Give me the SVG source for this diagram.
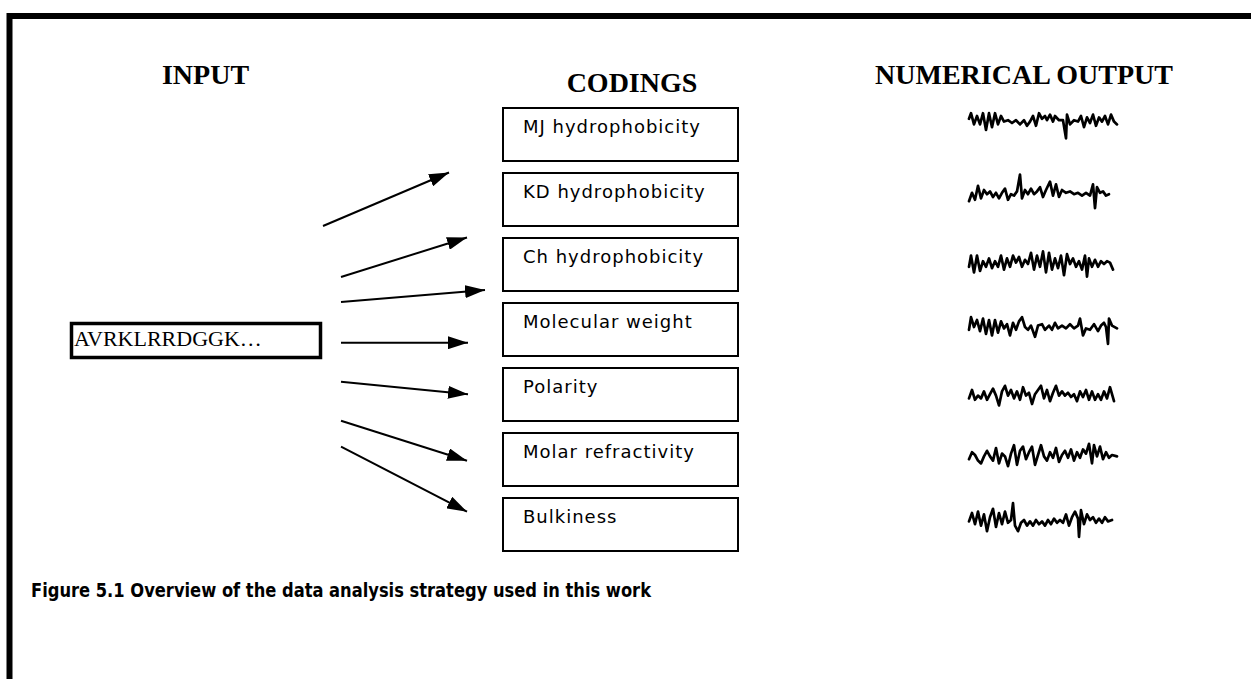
<svg xmlns="http://www.w3.org/2000/svg" width="1251" height="679" viewBox="0 0 1251 679">
  <style>
    .frame { fill: none; stroke: #000; stroke-width: 6; }
    .heading { font-family: "Liberation Serif", "Times New Roman", serif; font-weight: bold; font-size: 28px; fill: #000; }
    .box { fill: #fff; stroke: #000; stroke-width: 2; }
    .label { font-family: "DejaVu Sans", "Liberation Sans", sans-serif; font-size: 18px; letter-spacing: 1px; fill: #000; }
    .seq-box { fill: #fff; stroke: #000; stroke-width: 3.5; }
    .seq { font-family: "Liberation Serif", "Times New Roman", serif; font-size: 22px; fill: #000; }
    .arrow { fill: none; stroke: #000; stroke-width: 2; marker-end: url(#head); }
    .wave { fill: none; stroke: #000; stroke-width: 2.7; stroke-linejoin: round; stroke-linecap: round; vector-effect: non-scaling-stroke; }
    .caption { font-family: "DejaVu Sans", "Liberation Sans", sans-serif; font-weight: bold; font-size: 20px; fill: #000; }
  </style>
  <defs>
    <marker id="head" markerUnits="userSpaceOnUse" markerWidth="20" markerHeight="13" refX="20" refY="6.5" orient="auto">
      <path d="M0,0 L20,6.5 L0,13 Z" fill="#000"/>
    </marker>
  </defs>

  <rect width="1251" height="679" fill="#fff"/>
  <!-- open page frame: left and top edges only -->
  <path class="frame" d="M9.5,679 V16 H1251"/>

  <!-- column headings -->
  <text class="heading" x="205.5" y="84" text-anchor="middle">INPUT</text>
  <text class="heading" x="632" y="92" text-anchor="middle">CODINGS</text>
  <text class="heading" x="1024" y="84" text-anchor="middle">NUMERICAL OUTPUT</text>

  <!-- input sequence -->
  <g id="input-sequence">
    <rect class="seq-box" x="71.5" y="323.5" width="249" height="34"/>
    <text class="seq" x="74" y="346">AVRKLRRDGGK…</text>
  </g>

  <!-- coding boxes -->
  <g id="coding-mj">
    <rect class="box" x="503" y="108" width="235" height="53"/>
    <text class="label" x="523" y="133">MJ hydrophobicity</text>
  </g>
  <g id="coding-kd">
    <rect class="box" x="503" y="173" width="235" height="53"/>
    <text class="label" x="523" y="198">KD hydrophobicity</text>
  </g>
  <g id="coding-ch">
    <rect class="box" x="503" y="238" width="235" height="53"/>
    <text class="label" x="523" y="263">Ch hydrophobicity</text>
  </g>
  <g id="coding-mw">
    <rect class="box" x="503" y="303" width="235" height="53"/>
    <text class="label" x="523" y="328">Molecular weight</text>
  </g>
  <g id="coding-polarity">
    <rect class="box" x="503" y="368" width="235" height="53"/>
    <text class="label" x="523" y="393">Polarity</text>
  </g>
  <g id="coding-molar">
    <rect class="box" x="503" y="433" width="235" height="53"/>
    <text class="label" x="523" y="458">Molar refractivity</text>
  </g>
  <g id="coding-bulk">
    <rect class="box" x="503" y="498" width="235" height="53"/>
    <text class="label" x="523" y="523">Bulkiness</text>
  </g>

  <!-- numerical output traces (vertically stretched about each trace's centre line) -->
  <g id="output-mj" transform="translate(0,123) scale(1,1.4) translate(0,-123)">
    <polyline class="wave" points="969,120 971,116 974,124 977,118 980,124 983,116 986,128 989,116 992,126 995,116 998,124 1001,118 1004,122 1008,121 1012,123 1016,121 1020,124 1024,121 1027,125 1030,122 1033,118 1036,125 1039,116 1042,120 1045,118 1047,121 1050,117 1053,122 1055,118 1059,121 1063,121 1066,134 1067,117 1070,124 1074,121 1078,122 1081,118 1084,126 1087,119 1090,123 1093,117 1096,125 1099,119 1102,122 1105,118 1108,124 1111,117 1114,122 1117,124"/>
  </g>
  <g id="output-kd" transform="translate(0,197) scale(1,1.4) translate(0,-197)">
    <polyline class="wave" points="969,200 972,194 975,199 978,189 981,198 984,192 987,195 990,193 993,197 996,194 999,198 1002,194 1005,191 1008,199 1011,195 1014,196 1017,193 1020,181 1022,198 1025,192 1028,195 1031,191 1034,195 1037,193 1040,190 1043,197 1046,192 1050,186 1053,196 1056,188 1059,197 1062,192 1066,194 1070,193 1074,195 1078,194 1082,196 1086,194 1090,196 1093,188 1095,205 1097,190 1100,194 1103,193 1106,196 1109,195"/>
  </g>
  <g id="output-ch" transform="translate(0,264) scale(1,1.4) translate(0,-264)">
    <polyline class="wave" points="969,266 971,258 974,270 977,258 980,269 983,262 986,266 989,260 992,267 995,262 998,266 1001,258 1004,268 1007,260 1010,266 1013,258 1016,263 1019,259 1022,266 1025,261 1028,264 1031,256 1034,268 1037,258 1040,266 1043,255 1046,270 1049,256 1052,268 1055,260 1058,267 1061,258 1064,272 1067,257 1070,264 1073,260 1076,266 1079,262 1082,268 1085,258 1087,273 1089,260 1092,266 1095,261 1098,266 1101,262 1104,264 1107,262 1110,263 1113,268"/>
  </g>
  <g id="output-mw" transform="translate(0,327) scale(1,1.4) translate(0,-327)">
    <polyline class="wave" points="969,329 971,320 974,327 977,322 980,330 983,321 986,332 989,322 992,333 995,322 998,331 1001,323 1004,328 1007,325 1010,333 1013,324 1016,329 1019,323 1022,320 1025,327 1028,329 1031,326 1035,334 1038,326 1042,325 1045,329 1049,326 1052,329 1055,324 1058,328 1062,326 1066,328 1070,325 1074,328 1078,326 1080,321 1083,333 1086,328 1090,329 1094,325 1098,330 1101,326 1104,324 1106,327 1108,339 1109,321 1112,326 1117,328"/>
  </g>
  <g id="output-polarity" transform="translate(0,397) scale(1,1.4) translate(0,-397)">
    <polyline class="wave" points="969,398 972,392 975,399 978,396 981,398 984,393 987,399 990,395 993,391 996,396 999,403 1002,393 1005,389 1008,396 1011,392 1014,398 1017,393 1020,399 1023,390 1026,396 1029,394 1032,402 1035,395 1038,392 1041,389 1044,398 1047,392 1050,400 1053,394 1056,389 1059,396 1062,393 1065,396 1068,394 1071,397 1074,395 1077,400 1080,393 1083,397 1086,392 1089,399 1092,393 1095,399 1098,395 1101,399 1104,393 1107,398 1110,390 1114,400"/>
  </g>
  <g id="output-molar" transform="translate(0,455) scale(1,1.4) translate(0,-455)">
    <polyline class="wave" points="969,458 972,453 975,455 978,459 981,461 984,456 987,452 990,456 993,459 996,450 999,461 1002,454 1005,456 1008,463 1011,454 1014,448 1017,462 1020,452 1023,449 1026,458 1029,453 1032,449 1035,462 1038,455 1041,448 1044,456 1047,459 1050,453 1053,457 1056,450 1059,460 1062,455 1065,452 1068,457 1071,451 1074,459 1077,453 1080,457 1083,451 1086,454 1089,447 1092,461 1094,448 1097,456 1100,449 1103,458 1106,453 1109,457 1112,455 1117,456"/>
  </g>
  <g id="output-bulk" transform="translate(0,520) scale(1,1.4) translate(0,-520)">
    <polyline class="wave" points="969,521 972,515 975,523 978,514 981,524 984,516 987,528 990,518 993,512 996,525 999,515 1002,523 1005,514 1008,522 1011,520 1013,508 1015,524 1018,528 1021,522 1024,520 1027,524 1030,521 1033,524 1036,520 1039,523 1042,521 1045,524 1048,520 1051,523 1054,519 1057,522 1060,520 1063,522 1066,516 1069,524 1072,518 1075,514 1078,519 1079,532 1081,513 1084,523 1087,516 1090,520 1093,518 1096,522 1099,519 1102,522 1105,518 1108,521 1112,520"/>
  </g>

  <!-- connectors from the sequence to the codings -->
  <g id="connectors">
    <line class="arrow" x1="323" y1="226" x2="449" y2="172.5"/>
    <line class="arrow" x1="341" y1="277" x2="467" y2="237.5"/>
    <line class="arrow" x1="341" y1="302" x2="485" y2="290"/>
    <line class="arrow" x1="341" y1="342.7" x2="468" y2="342.7"/>
    <line class="arrow" x1="341" y1="381.7" x2="468" y2="394.3"/>
    <line class="arrow" x1="341" y1="420.7" x2="467" y2="460.7"/>
    <line class="arrow" x1="341" y1="446.7" x2="467" y2="511.7"/>
  </g>

  <text class="caption" x="31" y="597" textLength="620" lengthAdjust="spacingAndGlyphs">Figure 5.1 Overview of the data analysis strategy used in this work</text>
</svg>
